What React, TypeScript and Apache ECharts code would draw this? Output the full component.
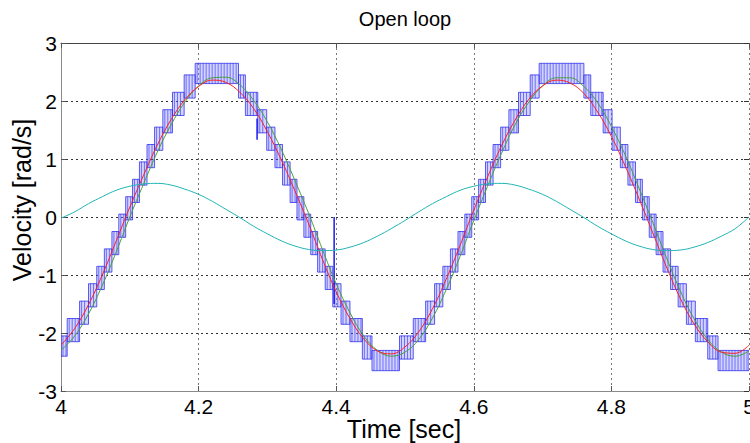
import { useEffect, useRef } from "react";
import * as echarts from "echarts";

// Sample instants (s) for the smooth traces
const sampleTimes = [
  4.0, 4.02, 4.04, 4.06, 4.08, 4.1, 4.12, 4.14, 4.16, 4.18,
  4.2, 4.22, 4.24, 4.26, 4.28, 4.3, 4.32, 4.34, 4.36, 4.38,
  4.4, 4.42, 4.44, 4.46, 4.48, 4.5, 4.52, 4.54, 4.56, 4.58,
  4.6, 4.62, 4.64, 4.66, 4.68, 4.7, 4.72, 4.74, 4.76, 4.78,
  4.8, 4.82, 4.84, 4.86, 4.88, 4.9, 4.92, 4.94, 4.96, 4.98, 5.0,
];

// Green trace (rad/s)
const greenVel = [
  -2.3, -2.05, -1.67, -1.18, -0.61, 0.0, 0.57, 1.12, 1.59, 1.98,
  2.26, 2.4, 2.41, 2.28, 2.01, 1.64, 1.17, 0.63, 0.06, -0.56,
  -1.15, -1.65, -2.05, -2.3, -2.4, -2.33, -2.11, -1.74, -1.25, -0.68,
  -0.06, 0.53, 1.09, 1.59, 1.98, 2.26, 2.4, 2.4, 2.25, 1.97,
  1.56, 1.07, 0.5, -0.09, -0.7, -1.27, -1.75, -2.11, -2.33, -2.4, -2.31,
];

// Red trace (rad/s)
const redVel = [
  -2.21, -1.92, -1.51, -1.0, -0.42, 0.17, 0.72, 1.24, 1.68, 2.02,
  2.25, 2.36, 2.32, 2.15, 1.87, 1.47, 0.99, 0.45, -0.12, -0.73,
  -1.29, -1.75, -2.1, -2.31, -2.36, -2.24, -1.98, -1.58, -1.07, -0.49,
  0.12, 0.69, 1.22, 1.67, 2.03, 2.26, 2.36, 2.31, 2.13, 1.81,
  1.39, 0.88, 0.32, -0.27, -0.86, -1.4, -1.84, -2.15, -2.33, -2.35, -2.21,
];

// Cyan trace (rad/s)
const cyanVel = [
  -0.02, 0.09, 0.23, 0.35, 0.46, 0.53, 0.57, 0.58, 0.55, 0.48,
  0.39, 0.27, 0.13, -0.01, -0.16, -0.29, -0.41, -0.5, -0.56, -0.58,
  -0.57, -0.52, -0.44, -0.33, -0.2, -0.06, 0.09, 0.23, 0.35, 0.46,
  0.53, 0.57, 0.58, 0.55, 0.48, 0.39, 0.27, 0.13, -0.01, -0.16,
  -0.29, -0.41, -0.5, -0.56, -0.58, -0.57, -0.52, -0.44, -0.33, -0.2, 0.0,
];

// Blue measured velocity: quantised steps, each [start time, low, high]
// (the signal chatters between low and high until the next step starts)
const blueSteps = [
  [4.0, -2.4, -2.05], [4.009, -2.15, -1.75], [4.027, -1.85, -1.45], [4.04, -1.55, -1.15],
  [4.052, -1.25, -0.85], [4.063, -0.95, -0.55], [4.074, -0.65, -0.25], [4.084, -0.35, 0.05],
  [4.094, -0.05, 0.35], [4.104, 0.25, 0.65], [4.114, 0.55, 0.95], [4.125, 0.85, 1.25],
  [4.136, 1.15, 1.55], [4.148, 1.45, 1.85], [4.162, 1.75, 2.15], [4.179, 2.05, 2.45],
  [4.195, 2.3, 2.65],
  [4.258, 2.05, 2.45], [4.268, 1.75, 2.15], [4.286, 1.45, 1.85], [4.299, 1.15, 1.55],
  [4.311, 0.85, 1.25], [4.322, 0.55, 0.95], [4.333, 0.25, 0.65], [4.343, -0.05, 0.35],
  [4.353, -0.35, 0.05], [4.363, -0.65, -0.25], [4.373, -0.95, -0.55], [4.384, -1.25, -0.85],
  [4.395, -1.55, -1.15], [4.407, -1.85, -1.45], [4.42, -2.15, -1.75], [4.438, -2.45, -2.05],
  [4.452, -2.65, -2.3],
  [4.492, -2.45, -2.05], [4.512, -2.15, -1.75], [4.53, -1.85, -1.45], [4.543, -1.55, -1.15],
  [4.555, -1.25, -0.85], [4.566, -0.95, -0.55], [4.577, -0.65, -0.25], [4.587, -0.35, 0.05],
  [4.597, -0.05, 0.35], [4.607, 0.25, 0.65], [4.617, 0.55, 0.95], [4.628, 0.85, 1.25],
  [4.639, 1.15, 1.55], [4.651, 1.45, 1.85], [4.665, 1.75, 2.15], [4.682, 2.05, 2.45],
  [4.695, 2.3, 2.65],
  [4.76, 2.05, 2.45], [4.77, 1.75, 2.15], [4.788, 1.45, 1.85], [4.801, 1.15, 1.55],
  [4.813, 0.85, 1.25], [4.824, 0.55, 0.95], [4.835, 0.25, 0.65], [4.845, -0.05, 0.35],
  [4.855, -0.35, 0.05], [4.865, -0.65, -0.25], [4.875, -0.95, -0.55], [4.886, -1.25, -0.85],
  [4.897, -1.55, -1.15], [4.909, -1.85, -1.45], [4.922, -2.15, -1.75], [4.94, -2.45, -2.05],
  [4.955, -2.65, -2.3],
];
const blueEndTime = 5.0;

// Isolated spikes in the blue signal: [time, low, high]
const blueSpikes = [
  [4.397, -1.5, 0.0],
  [4.285, 1.33, 1.7],
];

const xTicks = { min: 4, max: 5, interval: 0.2 };
const yTicks = { min: -3, max: 3, interval: 1 };

const FONT = "'Liberation Sans', Arial, sans-serif";

const zip = (vals: number[]) => sampleTimes.map((t, i) => [t, vals[i]]);

const blueBlocks = blueSteps.map((s, i) => [
  s[0],
  i + 1 < blueSteps.length ? blueSteps[i + 1][0] : blueEndTime,
  s[1],
  s[2],
]);

const gridLine = (color: string) => ({
  show: true,
  lineStyle: { type: [2, 3] as any, color, width: 1 },
});

// Draws one chatter block: a pale fill hatched with thin vertical strokes
const renderBlock = (_p: any, api: any) => {
  const a = api.coord([api.value(0), api.value(3)]);
  const b = api.coord([api.value(1), api.value(2)]);
  const w = b[0] - a[0];
  const h = b[1] - a[1];
  const children: any[] = [
    {
      type: "rect",
      shape: { x: a[0], y: a[1], width: w, height: h },
      style: {
        fill: "rgba(120,120,255,0.33)",
        stroke: "rgba(40,40,235,0.75)",
        lineWidth: 1,
      },
    },
  ];
  for (let x = a[0] + 2; x < b[0] - 1; x += 3) {
    children.push({
      type: "line",
      shape: { x1: x, y1: a[1], x2: x, y2: b[1] },
      style: { stroke: "rgba(30,30,240,0.55)", lineWidth: 1 },
    });
  }
  return { type: "group", children };
};

export default function App() {
  const ref = useRef<HTMLDivElement>(null);

  useEffect(() => {
    const chart = echarts.init(ref.current!, null, { renderer: "svg" });
    const option: any = {
      animation: false,
      backgroundColor: "#ffffff",
      grid: {
        left: 61,
        right: 1,
        top: 43,
        bottom: 52,
        containLabel: false,
        outerBoundsMode: "none",
      },
      xAxis: [
        {
          type: "value",
          ...xTicks,
          position: "bottom",
          axisLine: { show: true, onZero: false, lineStyle: { color: "#8a8a8a", width: 1 } },
          axisTick: { show: true, inside: true, length: 5, lineStyle: { color: "#555" } },
          axisLabel: {
            fontSize: 21,
            color: "#000",
            margin: 5,
            fontFamily: FONT,
            alignMinLabel: "center",
            alignMaxLabel: "center",
          },
          splitLine: gridLine("#777"),
        },
        {
          type: "value",
          ...xTicks,
          position: "top",
          axisLine: { show: true, onZero: false, lineStyle: { color: "#444", width: 1 } },
          axisTick: { show: true, inside: true, length: 5, lineStyle: { color: "#555" } },
          axisLabel: { show: false },
          splitLine: { show: false },
        },
      ],
      yAxis: [
        {
          type: "value",
          ...yTicks,
          position: "left",
          axisLine: { show: true, onZero: false, lineStyle: { color: "#8a8a8a", width: 1 } },
          axisTick: { show: true, inside: true, length: 5, lineStyle: { color: "#555" } },
          axisLabel: { fontSize: 21, color: "#000", margin: 4, fontFamily: FONT },
          splitLine: gridLine("#333"),
        },
        {
          type: "value",
          ...yTicks,
          position: "right",
          axisLine: { show: false, onZero: false },
          axisTick: { show: true, inside: true, length: 5, lineStyle: { color: "#333" } },
          axisLabel: { show: false },
          splitLine: { show: false },
        },
      ],
      graphic: [
        {
          type: "text",
          x: 405,
          y: 19,
          style: {
            text: "Open loop",
            fontSize: 20,
            fontFamily: FONT,
            fill: "#000",
            textAlign: "center",
            textVerticalAlign: "middle",
          },
        },
        {
          type: "text",
          x: 404,
          y: 429,
          style: {
            text: "Time [sec]",
            fontSize: 25,
            fontFamily: FONT,
            fill: "#000",
            textAlign: "center",
            textVerticalAlign: "middle",
          },
        },
        {
          type: "text",
          x: 22,
          y: 200,
          rotation: Math.PI / 2,
          style: {
            text: "Velocity [rad/s]",
            fontSize: 25,
            fontFamily: FONT,
            fill: "#000",
            textAlign: "center",
            textVerticalAlign: "middle",
          },
        },
      ],
      series: [
        {
          name: "measured",
          type: "custom",
          xAxisIndex: 0,
          yAxisIndex: 0,
          clip: true,
          encode: { x: [0, 1], y: [2, 3] },
          data: blueBlocks,
          renderItem: renderBlock,
        },
        {
          name: "spikes",
          type: "custom",
          xAxisIndex: 0,
          yAxisIndex: 0,
          clip: true,
          encode: { x: 0, y: [1, 2] },
          data: blueSpikes,
          renderItem: (_p: any, api: any) => {
            const a = api.coord([api.value(0), api.value(2)]);
            const b = api.coord([api.value(0), api.value(1)]);
            return {
              type: "line",
              shape: { x1: a[0], y1: a[1], x2: b[0], y2: b[1] },
              style: { stroke: "#1a1aee", lineWidth: 1.5 },
            };
          },
        },
        {
          name: "green",
          type: "line",
          data: zip(greenVel),
          smooth: 0.4,
          showSymbol: false,
          lineStyle: { color: "#4a9e3a", width: 1 },
        },
        {
          name: "red",
          type: "line",
          data: zip(redVel),
          smooth: 0.4,
          showSymbol: false,
          lineStyle: { color: "#ff2020", width: 1 },
        },
        {
          name: "cyan",
          type: "line",
          data: zip(cyanVel),
          smooth: 0.4,
          showSymbol: false,
          lineStyle: { color: "#20b4b4", width: 1 },
        },
      ],
    };
    chart.setOption(option);
    return () => chart.dispose();
  }, []);

  return (
    <div
      ref={ref}
      style={{ position: "fixed", left: 0, top: 0, width: 750, height: 443 }}
    />
  );
}
